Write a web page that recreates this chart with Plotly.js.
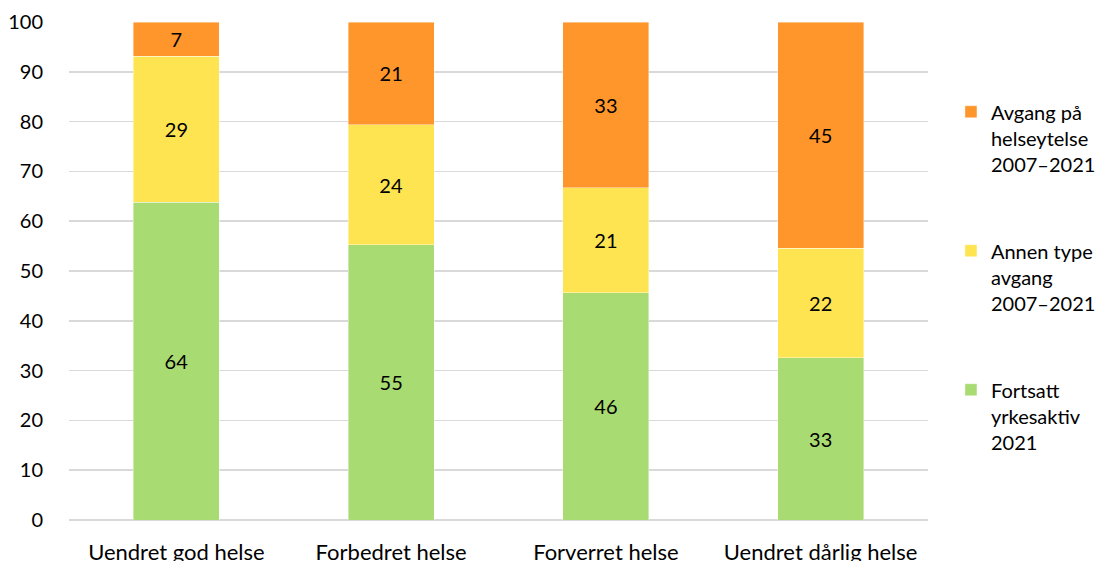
<!DOCTYPE html>
<html>
<head>
<meta charset="utf-8">
<script src="https://cdn.plot.ly/plotly-3.0.1.min.js"></script>
<style>html,body{margin:0;padding:0;background:#fff;}#chart{width:1105px;height:561px;}</style>
</head>
<body>
<div id="chart"></div>
<script>
const categories = ["Uendret god helse", "Forbedret helse", "Forverret helse", "Uendret dårlig helse"];
const fortsatt = [63.8, 55.3, 45.6, 32.6];
const annen = [29.3, 24.1, 21.1, 22.0];
const helseytelse = [6.9, 20.6, 33.3, 45.4];
const seriesNames = ["Fortsatt<br>yrkesaktiv<br>2021", "Annen type<br>avgang<br>2007–2021", "Avgang på<br>helseytelse<br>2007–2021"];
const legendRanks = [3, 2, 1];
const yTicks = [0, 10, 20, 30, 40, 50, 60, 70, 80, 90, 100];

const FONT = "Lato, 'Open Sans', sans-serif";
const colors = ["#A9DB73", "#FFE452", "#FE962C"];
const seriesData = [fortsatt, annen, helseytelse];

const traces = seriesData.map((vals, i) => ({
  type: "bar",
  x: categories,
  y: vals,
  name: seriesNames[i],
  legendgroup: "g" + i,
  legendrank: legendRanks[i],
  marker: {color: colors[i], line: {color: "rgba(255,255,255,0.5)", width: 0.8}},
  text: vals.map(v => Math.round(v).toString()),
  textposition: "inside",
  insidetextanchor: "middle",
  textangle: 0,
  constraintext: "none",
  textfont: {family: FONT, size: 20, color: "#000"},
  hoverinfo: "x+y+name"
}));

const layout = {
  width: 1105,
  height: 561,
  barmode: "stack",
  bargap: 0.6,
  margin: {l: 69, r: 177, t: 22, b: 41},
  paper_bgcolor: "#fff",
  plot_bgcolor: "#fff",
  font: {family: FONT, size: 20, color: "#000"},
  showlegend: true,
  legend: {
    xref: "container",
    x: 0.8606, xanchor: "left",
    y: 0.859, yanchor: "top",
    traceorder: "grouped",
    tracegroupgap: 58,
    valign: "top",
    font: {family: FONT, size: 20, color: "#000"},
    itemwidth: 30,
    borderwidth: 0,
    bgcolor: "rgba(0,0,0,0)"
  },
  xaxis: {
    type: "category",
    range: [-0.5, 3.5],
    showgrid: false,
    zeroline: false,
    showline: false,
    ticks: "",
    ticklabelstandoff: 17,
    tickfont: {family: FONT, size: 22, color: "#000"}
  },
  yaxis: {
    range: [0, 100],
    tickvals: yTicks,
    ticktext: yTicks.map(String),
    showgrid: true,
    gridcolor: "#D9D9D9",
    gridwidth: 1.5,
    zeroline: true,
    zerolinecolor: "#D9D9D9",
    zerolinewidth: 1.5,
    showline: false,
    ticks: "",
    ticklabelstandoff: 25,
    tickfont: {family: FONT, size: 20, color: "#000"}
  }
};

Plotly.newPlot("chart", traces, layout, {displayModeBar: false, staticPlot: true});
</script>
</body>
</html>
